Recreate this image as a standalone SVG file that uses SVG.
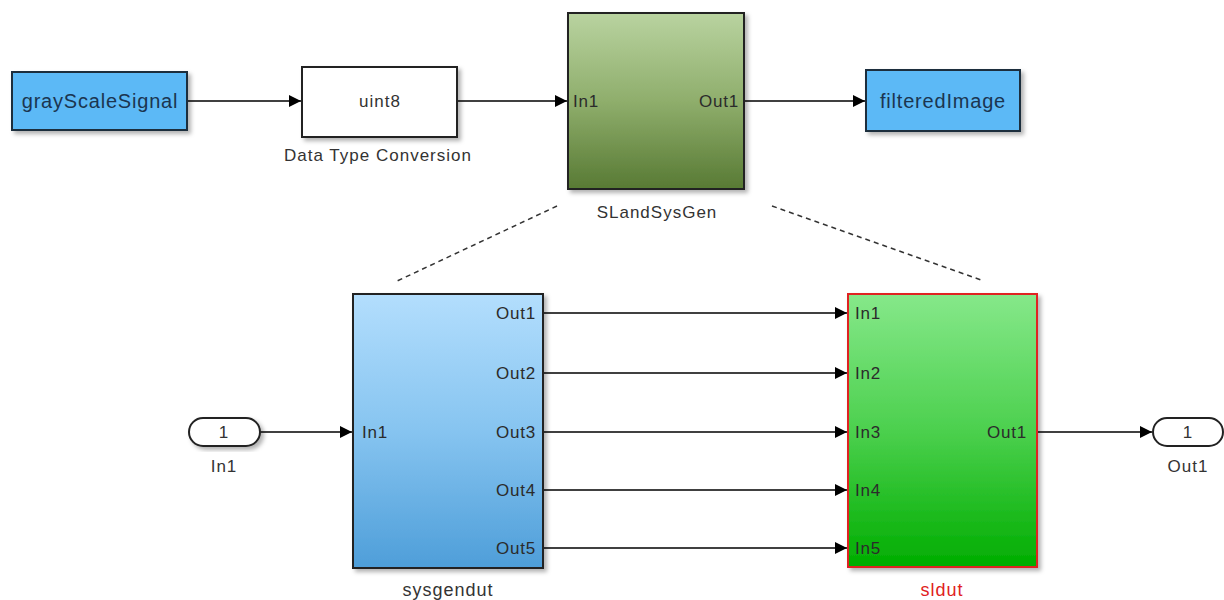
<svg xmlns="http://www.w3.org/2000/svg" width="1224" height="600" viewBox="0 0 1224 600">
<defs>
<linearGradient id="gGreen" x1="0" y1="0" x2="0" y2="1"><stop offset="0" stop-color="#b9d3a0"/><stop offset="0.5" stop-color="#8fae6c"/><stop offset="1" stop-color="#587a34"/></linearGradient>
<linearGradient id="gBlue" x1="0" y1="0" x2="0" y2="1"><stop offset="0" stop-color="#b3defd"/><stop offset="0.5" stop-color="#86c4f0"/><stop offset="1" stop-color="#4e9ed9"/></linearGradient>
<linearGradient id="gLime" x1="0" y1="0" x2="0" y2="1"><stop offset="0" stop-color="#86e88a"/><stop offset="0.5" stop-color="#4cd04e"/><stop offset="1" stop-color="#00ad00"/></linearGradient>
<filter id="sh" x="-10%" y="-10%" width="130%" height="130%"><feDropShadow dx="3" dy="3" stdDeviation="2" flood-color="#000" flood-opacity="0.3"/></filter>
<marker id="ah" viewBox="0 0 10 10" refX="10" refY="5" markerWidth="14" markerHeight="12" markerUnits="userSpaceOnUse" orient="auto"><path d="M0,0 L10,5 L0,10 z" fill="#000"/></marker>
</defs>
<style>
text{font-family:"Liberation Sans",Arial,sans-serif;fill:#333}
.blk{stroke:#222;stroke-width:2}
.lbl{font-size:17px;letter-spacing:1px;text-anchor:middle}
.port{font-size:17px;letter-spacing:0.8px;fill:#2b2b2b}
.ext{fill:#5cb9f6;stroke:#1d2d3d;stroke-width:2}
.extt{font-size:20px;letter-spacing:0.8px;fill:#1b3550;text-anchor:middle}
.w{stroke:#000;stroke-width:1.5;fill:none;marker-end:url(#ah)}
.d{stroke:#333;stroke-width:1.5;stroke-dasharray:5,4;fill:none}
</style>
<rect width="1224" height="600" fill="#fff"/>
<g id="connectors">
<line class="w" x1="187" y1="101" x2="301" y2="101"/>
<line class="w" x1="457" y1="101" x2="567" y2="101"/>
<line class="w" x1="744" y1="101" x2="865" y2="101"/>
<line class="w" x1="260" y1="432" x2="352" y2="432"/>
<line class="w" x1="543" y1="313" x2="847" y2="313"/>
<line class="w" x1="543" y1="373" x2="847" y2="373"/>
<line class="w" x1="543" y1="432" x2="847" y2="432"/>
<line class="w" x1="543" y1="490" x2="847" y2="490"/>
<line class="w" x1="543" y1="548" x2="847" y2="548"/>
<line class="w" x1="1037" y1="432" x2="1152" y2="432"/>
<line class="d" x1="557" y1="206" x2="395" y2="282"/>
<line class="d" x1="772" y1="206" x2="984" y2="281"/>
</g>
<g id="grayScaleSignal">
<rect class="ext" x="12" y="72" width="175" height="58" filter="url(#sh)"/>
<text class="extt" x="100" y="108">grayScaleSignal</text>
</g>
<g id="dataTypeConversion">
<rect class="blk" x="302" y="67" width="155" height="70" fill="#fff" filter="url(#sh)"/>
<text class="lbl" x="380" y="107">uint8</text>
<text class="lbl" x="378" y="161">Data Type Conversion</text>
</g>
<g id="SLandSysGen">
<rect class="blk" x="568" y="13" width="176" height="176" fill="url(#gGreen)" filter="url(#sh)"/>
<text class="port" x="573" y="107">In1</text>
<text class="port" x="739" y="107" text-anchor="end">Out1</text>
<text class="lbl" x="657" y="218">SLandSysGen</text>
</g>
<g id="filteredImage">
<rect class="ext" x="866" y="70" width="154" height="61" filter="url(#sh)"/>
<text class="extt" x="943" y="108">filteredImage</text>
</g>
<g id="In1">
<rect x="189" y="418" width="71" height="28" rx="14" ry="14" fill="#fff" stroke="#222" stroke-width="2" filter="url(#sh)"/>
<text class="lbl" x="224" y="438">1</text>
<text class="lbl" x="224" y="472">In1</text>
</g>
<g id="sysgendut">
<rect class="blk" x="353" y="294" width="190" height="274" fill="url(#gBlue)" filter="url(#sh)"/>
<text class="port" x="362" y="438">In1</text>
<text class="port" x="536" y="319" text-anchor="end">Out1</text>
<text class="port" x="536" y="379" text-anchor="end">Out2</text>
<text class="port" x="536" y="438" text-anchor="end">Out3</text>
<text class="port" x="536" y="496" text-anchor="end">Out4</text>
<text class="port" x="536" y="554" text-anchor="end">Out5</text>
<text class="lbl" x="448" y="596" style="font-size:18px">sysgendut</text>
</g>
<g id="sldut">
<rect x="848" y="294" width="189" height="273" fill="url(#gLime)" stroke="#e02020" stroke-width="2" filter="url(#sh)"/>
<text class="port" x="855" y="319">In1</text>
<text class="port" x="855" y="379">In2</text>
<text class="port" x="855" y="438">In3</text>
<text class="port" x="855" y="496">In4</text>
<text class="port" x="855" y="554">In5</text>
<text class="port" x="1027" y="438" text-anchor="end">Out1</text>
<text class="lbl" x="942" y="596" style="font-size:18px;fill:#e02020">sldut</text>
</g>
<g id="Out1">
<rect x="1153" y="418" width="70" height="28" rx="14" ry="14" fill="#fff" stroke="#222" stroke-width="2"/>
<text class="lbl" x="1188" y="438">1</text>
<text class="lbl" x="1188" y="472">Out1</text>
</g>
</svg>
